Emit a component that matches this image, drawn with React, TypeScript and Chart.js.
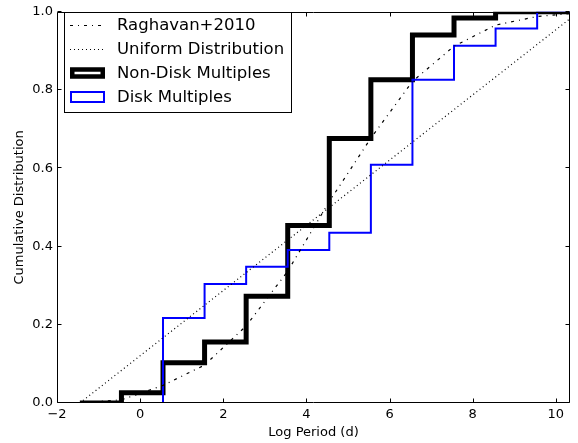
import React, { useEffect, useRef } from 'react';
import { Chart, registerables } from 'chart.js';

Chart.register(...registerables);

// ---- data ----
const binEdges = [-1.45, -0.45, 0.55, 1.55, 2.55, 3.55, 4.55, 5.55, 6.55, 7.55, 8.55, 9.55, 10.55];
const nonDiskCdf = [0, 0.026, 0.103, 0.156, 0.273, 0.454, 0.676, 0.826, 0.941, 0.984, 1.0, 1.0, 1.0];
const diskCdf = [0, 0, 0.217, 0.304, 0.348, 0.391, 0.435, 0.609, 0.826, 0.913, 0.957, 1.0, 1.0];
const raghavanCdf = [0.001, 0.008, 0.045, 0.097, 0.197, 0.337, 0.515, 0.677, 0.822, 0.912, 0.966, 0.988, 0.997];
const uniformX = [-1.45, 10.55];
const uniformY = [0, 1];
const xTicks = [-2, 0, 2, 4, 6, 8, 10];
const yTicks = [0, 0.2, 0.4, 0.6, 0.8, 1.0];
const seriesNames = ['Raghavan+2010', 'Uniform Distribution', 'Non-Disk Multiples', 'Disk Multiples'];
const xTitle = 'Log Period (d)';
const yTitle = 'Cumulative Distribution';

const FONT = "'DejaVu Sans', sans-serif";
const DASHDOT = [3, 5, 1, 5];
const DOTTED = [1, 3];

const toPts = (xs: number[], ys: number[]) => xs.map((x, i) => ({ x, y: ys[i] }));

const framePlugin = {
  id: 'frameTicks',
  afterDatasetsDraw(chart: any) {
    const { ctx, chartArea: a, scales } = chart;
    const xs = scales.x;
    const ys = scales.y;
    const L = Math.round(a.left) + 0.5;
    const R = Math.round(a.right) - 0.5;
    const T = Math.round(a.top) + 0.5;
    const B = Math.round(a.bottom) - 0.5;
    ctx.save();
    ctx.strokeStyle = '#000';
    ctx.lineWidth = 1;
    ctx.setLineDash([]);
    ctx.beginPath();
    ctx.rect(L, T, R - L, B - T);
    ctx.stroke();
    const len = 4;
    ctx.beginPath();
    xTicks.forEach((v) => {
      const px = Math.round(xs.getPixelForValue(v)) + 0.5;
      ctx.moveTo(px, B);
      ctx.lineTo(px, B - len);
      ctx.moveTo(px, T);
      ctx.lineTo(px, T + len);
    });
    yTicks.forEach((v) => {
      const py = Math.round(ys.getPixelForValue(v)) - 0.5;
      ctx.moveTo(L, py);
      ctx.lineTo(L + len, py);
      ctx.moveTo(R, py);
      ctx.lineTo(R - len, py);
    });
    ctx.stroke();
    ctx.restore();
  },
};

const legendPlugin = {
  id: 'mplLegend',
  afterDraw(chart: any) {
    const { ctx } = chart;
    ctx.save();
    ctx.fillStyle = '#fff';
    ctx.fillRect(64, 12, 228, 100);
    ctx.strokeStyle = '#000';
    ctx.lineWidth = 1;
    ctx.strokeRect(64.5, 12.5, 227, 100);
    const rows = [25, 49, 73, 97];
    const x0 = 70;
    const x1 = 105;
    ctx.lineWidth = 1.2;
    ctx.setLineDash(DASHDOT);
    ctx.beginPath();
    ctx.moveTo(x0, rows[0] + 0.5);
    ctx.lineTo(x1, rows[0] + 0.5);
    ctx.stroke();
    ctx.setLineDash(DOTTED);
    ctx.beginPath();
    ctx.moveTo(x0, rows[1] + 0.5);
    ctx.lineTo(x1, rows[1] + 0.5);
    ctx.stroke();
    ctx.setLineDash([]);
    ctx.lineWidth = 4.5;
    ctx.lineJoin = 'miter';
    ctx.strokeRect(x0 + 2.25, rows[2] - 3.5, x1 - x0 - 4.5, 7);
    ctx.strokeStyle = '#0000ff';
    ctx.lineWidth = 2;
    ctx.strokeRect(x0 + 1, rows[3] - 5, x1 - x0 - 2, 10);
    ctx.fillStyle = '#000';
    ctx.font = `16.5px ${FONT}`;
    ctx.textBaseline = 'middle';
    ctx.textAlign = 'left';
    seriesNames.forEach((t, i) => ctx.fillText(t, 117, rows[i] + 1));
    ctx.restore();
  },
};

export default function App() {
  const ref = useRef<HTMLCanvasElement | null>(null);

  useEffect(() => {
    if (!ref.current) return;
    const chart = new Chart(ref.current, {
      type: 'line',
      data: {
        datasets: [
          {
            label: seriesNames[0],
            data: toPts(binEdges, raghavanCdf),
            borderColor: '#000',
            borderWidth: 1.2,
            borderDash: DASHDOT,
            pointRadius: 0,
            fill: false,
            order: 1,
          },
          {
            label: seriesNames[1],
            data: toPts(uniformX, uniformY),
            borderColor: '#000',
            borderWidth: 1.2,
            borderDash: DOTTED,
            pointRadius: 0,
            fill: false,
            order: 2,
          },
          {
            label: seriesNames[2],
            data: toPts(binEdges, nonDiskCdf),
            borderColor: '#000',
            borderWidth: 5,
            stepped: 'before',
            borderJoinStyle: 'miter',
            pointRadius: 0,
            fill: false,
            order: 4,
          },
          {
            label: seriesNames[3],
            data: toPts(binEdges, diskCdf),
            borderColor: '#0000ff',
            borderWidth: 2,
            stepped: 'before',
            borderJoinStyle: 'miter',
            pointRadius: 0,
            fill: false,
            order: 3,
          },
        ],
      } as any,
      options: {
        responsive: false,
        animation: false,
        events: [],
        layout: { padding: { left: 0, right: 8, top: 11, bottom: 0 } },
        plugins: {
          legend: { display: false },
          tooltip: { enabled: false },
        },
        scales: {
          x: {
            type: 'linear',
            min: -2,
            max: 10.34,
            grid: { display: false, drawTicks: false },
            border: { display: false },
            ticks: {
              stepSize: 2,
              includeBounds: false,
              padding: 4,
              color: '#000',
              font: { family: FONT, size: 13 },
              maxRotation: 0,
              callback: (v: any) => (v < 0 ? '\u2212' + Math.abs(v) : String(v)),
            },
            title: {
              display: true,
              text: xTitle,
              color: '#000',
              font: { family: FONT, size: 13 },
              padding: { top: 0, bottom: 3 },
            },
            afterFit: (s: any) => {
              s.height = 40;
            },
          },
          y: {
            type: 'linear',
            min: 0,
            max: 1,
            grid: { display: false, drawTicks: false },
            border: { display: false },
            ticks: {
              stepSize: 0.2,
              padding: 4,
              color: '#000',
              font: { family: FONT, size: 13 },
              callback: (v: any) => Number(v).toFixed(1),
            },
            title: {
              display: true,
              text: yTitle,
              color: '#000',
              font: { family: FONT, size: 13 },
              padding: { top: 12, bottom: 0 },
            },
            afterFit: (s: any) => {
              s.width = 57;
            },
          },
        },
      },
      plugins: [framePlugin, legendPlugin],
    });
    return () => chart.destroy();
  }, []);

  return (
    <div style={{ position: 'fixed', left: 0, top: 0, width: 578, height: 443, background: '#fff' }}>
      <canvas ref={ref} width={578} height={443} style={{ width: 578, height: 443, display: 'block' }} />
    </div>
  );
}
